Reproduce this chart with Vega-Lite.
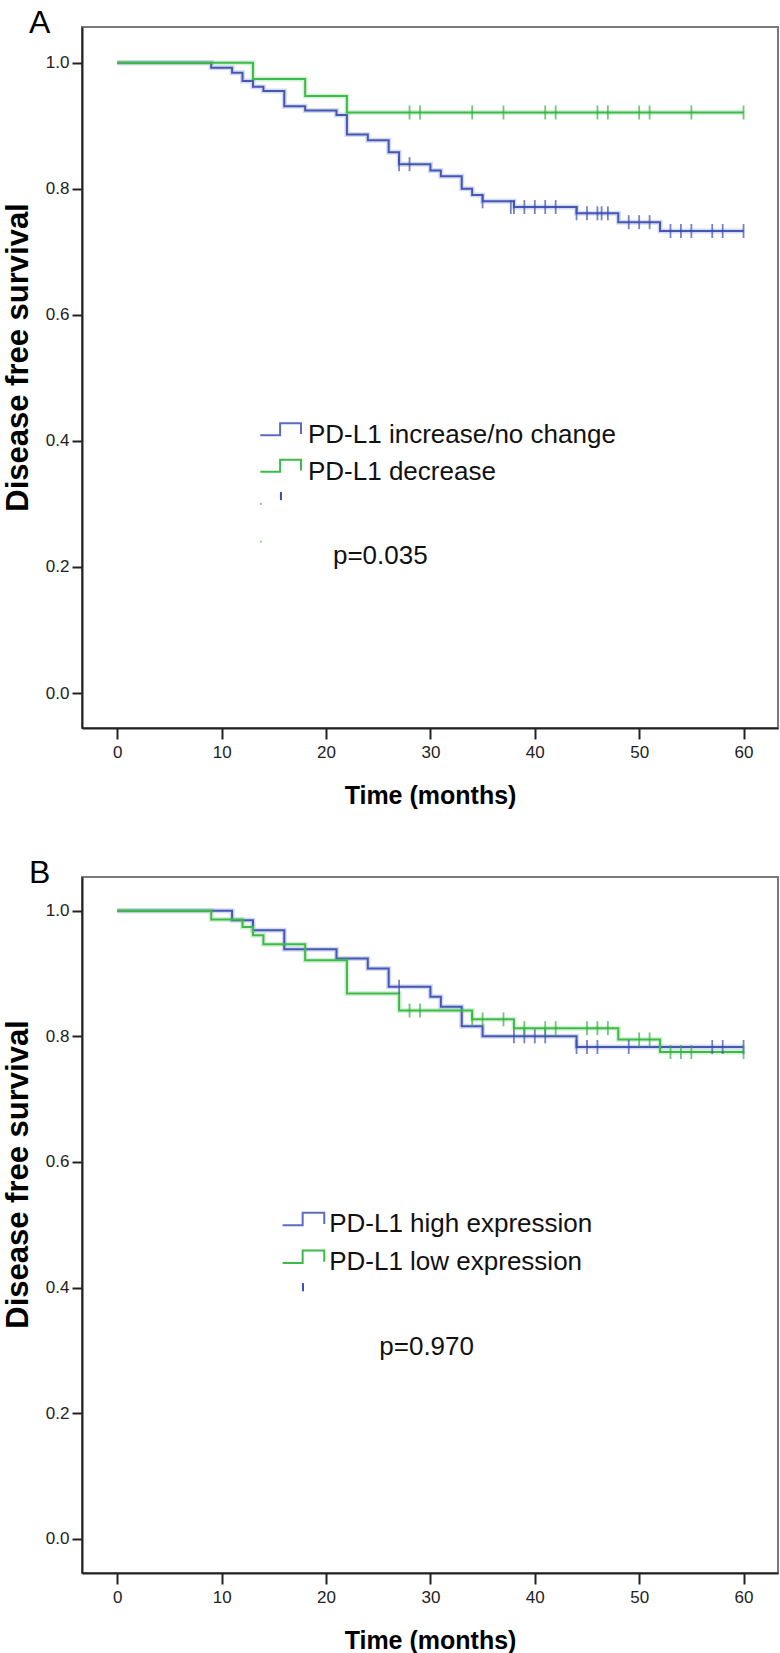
{
  "$schema": "https://vega.github.io/schema/vega-lite/v6.json",
  "padding": {"left": 1, "top": 6, "right": 2, "bottom": 2},
  "bounds": "flush",
  "spacing": 149,
  "background": "white",
  "config": {
    "view": {"stroke": "#7a7a7a", "strokeWidth": 2},
    "font": "Liberation Sans",
    "axis": {
      "grid": false,
      "domainColor": "#222",
      "domainWidth": 2,
      "tickColor": "#222",
      "tickWidth": 2,
      "labelFont": "Liberation Sans",
      "labelFontSize": 17,
      "labelColor": "#222",
      "titleFont": "Liberation Sans",
      "titleFontWeight": "bold",
      "titleColor": "#000"
    },
    "axisX": {"titleFontSize": 25, "titlePadding": 23, "tickSize": 11, "labelPadding": 5},
    "axisY": {"titleFontSize": 31, "titlePadding": 11, "tickSize": 10, "labelPadding": 3},
    "title": {"font": "Liberation Sans", "fontSize": 32, "fontWeight": "normal", "anchor": "start", "frame": "group", "baseline": "alphabetic", "dx": -53, "offset": -13, "color": "#000"}
  },
  "datasets": {
    "curveA": [
      {"g": "inc", "t": 0, "s": 1.0}, {"g": "inc", "t": 9, "s": 0.992}, {"g": "inc", "t": 11, "s": 0.984},
      {"g": "inc", "t": 12, "s": 0.971}, {"g": "inc", "t": 13, "s": 0.962}, {"g": "inc", "t": 14, "s": 0.955},
      {"g": "inc", "t": 16, "s": 0.931}, {"g": "inc", "t": 18, "s": 0.924}, {"g": "inc", "t": 21, "s": 0.917},
      {"g": "inc", "t": 22, "s": 0.886}, {"g": "inc", "t": 24, "s": 0.877}, {"g": "inc", "t": 26, "s": 0.858},
      {"g": "inc", "t": 27, "s": 0.839}, {"g": "inc", "t": 30, "s": 0.829}, {"g": "inc", "t": 31, "s": 0.82},
      {"g": "inc", "t": 33, "s": 0.8}, {"g": "inc", "t": 34, "s": 0.79}, {"g": "inc", "t": 35, "s": 0.78},
      {"g": "inc", "t": 38, "s": 0.771}, {"g": "inc", "t": 44, "s": 0.761}, {"g": "inc", "t": 48, "s": 0.747},
      {"g": "inc", "t": 52, "s": 0.733}, {"g": "inc", "t": 60, "s": 0.733},
      {"g": "dec", "t": 0, "s": 1.0}, {"g": "dec", "t": 13, "s": 0.974}, {"g": "dec", "t": 18, "s": 0.947},
      {"g": "dec", "t": 22, "s": 0.921}, {"g": "dec", "t": 60, "s": 0.921}
    ],
    "censorA": [
      {"g": "inc", "t": 27, "s": 0.839}, {"g": "inc", "t": 28, "s": 0.839}, {"g": "inc", "t": 35, "s": 0.78},
      {"g": "inc", "t": 37.7, "s": 0.771}, {"g": "inc", "t": 38, "s": 0.771}, {"g": "inc", "t": 39, "s": 0.771},
      {"g": "inc", "t": 40, "s": 0.771}, {"g": "inc", "t": 41, "s": 0.771}, {"g": "inc", "t": 42, "s": 0.771},
      {"g": "inc", "t": 44, "s": 0.761}, {"g": "inc", "t": 45, "s": 0.761}, {"g": "inc", "t": 46, "s": 0.761},
      {"g": "inc", "t": 46.4, "s": 0.761}, {"g": "inc", "t": 47, "s": 0.761}, {"g": "inc", "t": 49, "s": 0.747},
      {"g": "inc", "t": 50, "s": 0.747}, {"g": "inc", "t": 51, "s": 0.747}, {"g": "inc", "t": 53, "s": 0.733},
      {"g": "inc", "t": 54, "s": 0.733}, {"g": "inc", "t": 55, "s": 0.733}, {"g": "inc", "t": 57, "s": 0.733},
      {"g": "inc", "t": 58, "s": 0.733}, {"g": "inc", "t": 60, "s": 0.733},
      {"g": "dec", "t": 28, "s": 0.921}, {"g": "dec", "t": 29, "s": 0.921}, {"g": "dec", "t": 34, "s": 0.921},
      {"g": "dec", "t": 37, "s": 0.921}, {"g": "dec", "t": 41, "s": 0.921}, {"g": "dec", "t": 42, "s": 0.921},
      {"g": "dec", "t": 46, "s": 0.921}, {"g": "dec", "t": 47, "s": 0.921}, {"g": "dec", "t": 50, "s": 0.921},
      {"g": "dec", "t": 51, "s": 0.921}, {"g": "dec", "t": 55, "s": 0.921}, {"g": "dec", "t": 60, "s": 0.921}
    ],
    "legSymA": [
      {"g": "inc", "i": 0, "t": 13.7, "s": 0.409}, {"g": "inc", "i": 1, "t": 15.6, "s": 0.409},
      {"g": "inc", "i": 2, "t": 15.6, "s": 0.428}, {"g": "inc", "i": 3, "t": 17.6, "s": 0.428},
      {"g": "inc", "i": 4, "t": 17.6, "s": 0.411},
      {"g": "dec", "i": 0, "t": 13.7, "s": 0.351}, {"g": "dec", "i": 1, "t": 15.6, "s": 0.351},
      {"g": "dec", "i": 2, "t": 15.6, "s": 0.37}, {"g": "dec", "i": 3, "t": 17.6, "s": 0.37},
      {"g": "dec", "i": 4, "t": 17.6, "s": 0.353}
    ],
    "textA": [
      {"label": "PD-L1 increase/no change", "t": 18.27, "s": 0.397},
      {"label": "PD-L1 decrease", "t": 18.27, "s": 0.338},
      {"label": "p=0.035", "t": 20.66, "s": 0.205}
    ],
    "curveB": [
      {"g": "high", "t": 0, "s": 1.0}, {"g": "high", "t": 11, "s": 0.985}, {"g": "high", "t": 13, "s": 0.969},
      {"g": "high", "t": 16, "s": 0.9385}, {"g": "high", "t": 21, "s": 0.924}, {"g": "high", "t": 24, "s": 0.908},
      {"g": "high", "t": 26, "s": 0.879}, {"g": "high", "t": 30, "s": 0.863}, {"g": "high", "t": 31, "s": 0.847},
      {"g": "high", "t": 33, "s": 0.816}, {"g": "high", "t": 35, "s": 0.8}, {"g": "high", "t": 44, "s": 0.783},
      {"g": "high", "t": 60, "s": 0.783},
      {"g": "low", "t": 0, "s": 1.0}, {"g": "low", "t": 9, "s": 0.986}, {"g": "low", "t": 12, "s": 0.974},
      {"g": "low", "t": 13, "s": 0.961}, {"g": "low", "t": 14, "s": 0.9465}, {"g": "low", "t": 18, "s": 0.921},
      {"g": "low", "t": 22, "s": 0.868}, {"g": "low", "t": 27, "s": 0.841}, {"g": "low", "t": 34, "s": 0.827},
      {"g": "low", "t": 38, "s": 0.813}, {"g": "low", "t": 48, "s": 0.795}, {"g": "low", "t": 52, "s": 0.775},
      {"g": "low", "t": 60, "s": 0.775}
    ],
    "censorB": [
      {"g": "high", "t": 27, "s": 0.879}, {"g": "high", "t": 38, "s": 0.8}, {"g": "high", "t": 39, "s": 0.8},
      {"g": "high", "t": 40, "s": 0.8}, {"g": "high", "t": 41, "s": 0.8}, {"g": "high", "t": 44, "s": 0.783},
      {"g": "high", "t": 45, "s": 0.783}, {"g": "high", "t": 46, "s": 0.783}, {"g": "high", "t": 49, "s": 0.783},
      {"g": "high", "t": 57, "s": 0.783}, {"g": "high", "t": 58, "s": 0.783}, {"g": "high", "t": 60, "s": 0.783},
      {"g": "low", "t": 28, "s": 0.841}, {"g": "low", "t": 29, "s": 0.841}, {"g": "low", "t": 34, "s": 0.827},
      {"g": "low", "t": 35, "s": 0.827}, {"g": "low", "t": 37, "s": 0.827}, {"g": "low", "t": 39, "s": 0.813},
      {"g": "low", "t": 41, "s": 0.813}, {"g": "low", "t": 42, "s": 0.813}, {"g": "low", "t": 45, "s": 0.813},
      {"g": "low", "t": 46, "s": 0.813}, {"g": "low", "t": 47, "s": 0.813}, {"g": "low", "t": 50, "s": 0.795},
      {"g": "low", "t": 51, "s": 0.795}, {"g": "low", "t": 53, "s": 0.775}, {"g": "low", "t": 54, "s": 0.775},
      {"g": "low", "t": 55, "s": 0.775}, {"g": "low", "t": 60, "s": 0.775}
    ],
    "legSymB": [
      {"g": "high", "i": 0, "t": 15.84, "s": 0.499}, {"g": "high", "i": 1, "t": 17.76, "s": 0.499},
      {"g": "high", "i": 2, "t": 17.76, "s": 0.519}, {"g": "high", "i": 3, "t": 19.83, "s": 0.519},
      {"g": "high", "i": 4, "t": 19.83, "s": 0.501},
      {"g": "low", "i": 0, "t": 15.84, "s": 0.439}, {"g": "low", "i": 1, "t": 17.76, "s": 0.439},
      {"g": "low", "i": 2, "t": 17.76, "s": 0.459}, {"g": "low", "i": 3, "t": 19.83, "s": 0.459},
      {"g": "low", "i": 4, "t": 19.83, "s": 0.441}
    ],
    "textB": [
      {"label": "PD-L1 high expression", "t": 20.3, "s": 0.488},
      {"label": "PD-L1 low expression", "t": 20.3, "s": 0.428},
      {"label": "p=0.970", "t": 25.1, "s": 0.293}
    ],
    "marksA": [
      {"g": "inc", "t": 15.68, "s": 0.306, "s2": 0.319}
    ],
    "dotsA": [
      {"g": "inc", "t": 13.76, "s": 0.3},
      {"g": "dec", "t": 13.76, "s": 0.24}
    ],
    "marksB": [
      {"g": "high", "t": 17.79, "s": 0.394, "s2": 0.407}
    ]
  },
  "vconcat": [
    {
      "title": {"text": "A"},
      "width": 696,
      "height": 701,
      "encoding": {
        "x": {"field": "t", "type": "quantitative", "scale": {"domain": [-3.38, 63.3], "nice": false, "zero": false},
              "axis": {"values": [0, 10, 20, 30, 40, 50, 60], "title": "Time (months)"}},
        "y": {"field": "s", "type": "quantitative", "scale": {"domain": [-0.0555, 1.0566], "nice": false, "zero": false},
              "axis": {"values": [0, 0.2, 0.4, 0.6, 0.8, 1.0], "format": ".1f", "title": "Disease free survival", "titleY": 330}}
      },
      "layer": [
        {"data": {"name": "curveA"}, "transform": [{"filter": "datum.g == 'inc'"}],
         "mark": {"type": "line", "interpolate": "step-after", "color": "#4357b5", "strokeWidth": 5, "opacity": 0.22}},
        {"data": {"name": "curveA"}, "transform": [{"filter": "datum.g == 'inc'"}],
         "mark": {"type": "line", "interpolate": "step-after", "color": "#4357b5", "strokeWidth": 2}},
        {"data": {"name": "curveA"}, "transform": [{"filter": "datum.g == 'dec'"}],
         "mark": {"type": "line", "interpolate": "step-after", "color": "#3dbb48", "strokeWidth": 5, "opacity": 0.22}},
        {"data": {"name": "curveA"}, "transform": [{"filter": "datum.g == 'dec'"}],
         "mark": {"type": "line", "interpolate": "step-after", "color": "#3dbb48", "strokeWidth": 2}},
        {"data": {"name": "censorA"}, "transform": [{"filter": "datum.g == 'inc'"}],
         "mark": {"type": "tick", "orient": "vertical", "size": 14, "thickness": 1.8, "color": "#3a4db0"}},
        {"data": {"name": "censorA"}, "transform": [{"filter": "datum.g == 'dec'"}],
         "mark": {"type": "tick", "orient": "vertical", "size": 14, "thickness": 1.8, "color": "#2fb23c"}},
        {"data": {"name": "legSymA"}, "transform": [{"filter": "datum.g == 'inc'"}],
         "mark": {"type": "line", "color": "#5a6cc4", "strokeWidth": 2},
         "encoding": {"order": {"field": "i", "type": "quantitative"}}},
        {"data": {"name": "legSymA"}, "transform": [{"filter": "datum.g == 'dec'"}],
         "mark": {"type": "line", "color": "#3dbb48", "strokeWidth": 2},
         "encoding": {"order": {"field": "i", "type": "quantitative"}}},
        {"data": {"name": "marksA"}, "mark": {"type": "rule", "color": "#3a4db0", "strokeWidth": 2},
         "encoding": {"y2": {"field": "s2"}}},
        {"data": {"name": "dotsA"}, "mark": {"type": "point", "filled": true, "size": 5, "opacity": 0.6},
         "encoding": {"color": {"field": "g", "type": "nominal", "scale": {"domain": ["inc", "dec"], "range": ["#5a6cc4", "#3dbb48"]}, "legend": null}}},
        {"data": {"name": "textA"}, "mark": {"type": "text", "align": "left", "baseline": "alphabetic", "fontSize": 26, "font": "Liberation Sans", "color": "#111"},
         "encoding": {"text": {"field": "label"}}}
      ]
    },
    {
      "title": {"text": "B"},
      "width": 696,
      "height": 696,
      "encoding": {
        "x": {"field": "t", "type": "quantitative", "scale": {"domain": [-3.38, 63.3], "nice": false, "zero": false},
              "axis": {"values": [0, 10, 20, 30, 40, 50, 60], "title": "Time (months)"}},
        "y": {"field": "s", "type": "quantitative", "scale": {"domain": [-0.0546, 1.0537], "nice": false, "zero": false},
              "axis": {"values": [0, 0.2, 0.4, 0.6, 0.8, 1.0], "format": ".1f", "title": "Disease free survival", "titleY": 297}}
      },
      "layer": [
        {"data": {"name": "curveB"}, "transform": [{"filter": "datum.g == 'high'"}],
         "mark": {"type": "line", "interpolate": "step-after", "color": "#4357b5", "strokeWidth": 5, "opacity": 0.22}},
        {"data": {"name": "curveB"}, "transform": [{"filter": "datum.g == 'high'"}],
         "mark": {"type": "line", "interpolate": "step-after", "color": "#4357b5", "strokeWidth": 2}},
        {"data": {"name": "curveB"}, "transform": [{"filter": "datum.g == 'low'"}],
         "mark": {"type": "line", "interpolate": "step-after", "color": "#3dbb48", "strokeWidth": 5, "opacity": 0.22}},
        {"data": {"name": "curveB"}, "transform": [{"filter": "datum.g == 'low'"}],
         "mark": {"type": "line", "interpolate": "step-after", "color": "#3dbb48", "strokeWidth": 2}},
        {"data": {"name": "censorB"}, "transform": [{"filter": "datum.g == 'high'"}],
         "mark": {"type": "tick", "orient": "vertical", "size": 14, "thickness": 1.8, "color": "#3a4db0"}},
        {"data": {"name": "censorB"}, "transform": [{"filter": "datum.g == 'low'"}],
         "mark": {"type": "tick", "orient": "vertical", "size": 14, "thickness": 1.8, "color": "#2fb23c"}},
        {"data": {"name": "legSymB"}, "transform": [{"filter": "datum.g == 'high'"}],
         "mark": {"type": "line", "color": "#5a6cc4", "strokeWidth": 2},
         "encoding": {"order": {"field": "i", "type": "quantitative"}}},
        {"data": {"name": "legSymB"}, "transform": [{"filter": "datum.g == 'low'"}],
         "mark": {"type": "line", "color": "#3dbb48", "strokeWidth": 2},
         "encoding": {"order": {"field": "i", "type": "quantitative"}}},
        {"data": {"name": "marksB"}, "mark": {"type": "rule", "color": "#3a4db0", "strokeWidth": 2},
         "encoding": {"y2": {"field": "s2"}}},
        {"data": {"name": "textB"}, "mark": {"type": "text", "align": "left", "baseline": "alphabetic", "fontSize": 26, "font": "Liberation Sans", "color": "#111"},
         "encoding": {"text": {"field": "label"}}}
      ]
    }
  ]
}
